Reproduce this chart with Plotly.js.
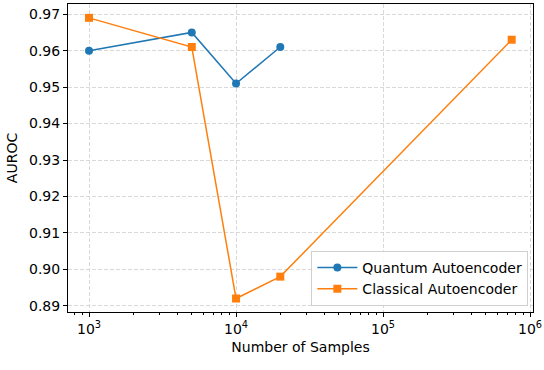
<!DOCTYPE html>
<html>
<head>
<meta charset="utf-8">
<script src="https://cdn.plot.ly/plotly-3.0.1.min.js"></script>
<style>
  html, body { margin: 0; padding: 0; background: #fff; }
  #chart { width: 544px; height: 370px; }
</style>
</head>
<body>
<div id="chart"></div>
<script>
    // Data
    const quantumSamples = [1000, 5000, 10000, 20000];
    const quantumAuroc = [0.960, 0.965, 0.951, 0.961];
    const classicalSamples = [1000, 5000, 10000, 20000, 750000];
    const classicalAuroc = [0.969, 0.961, 0.892, 0.898, 0.963];
    const xTickVals = [1e3, 1e4, 1e5, 1e6];
    const xTickText = ['10<sup>3</sup>', '10<sup>4</sup>', '10<sup>5</sup>', '10<sup>6</sup>'];
    const yTickVals = [0.89, 0.90, 0.91, 0.92, 0.93, 0.94, 0.95, 0.96, 0.97];

    const font = { family: 'DejaVu Sans, sans-serif', size: 14, color: '#000' };

    const traces = [{
        x: quantumSamples,
        y: quantumAuroc,
        type: 'scatter',
        mode: 'lines+markers',
        name: 'Quantum Autoencoder',
        line: { color: '#1f77b4', width: 1.5 },
        marker: { color: '#1f77b4', size: 8, symbol: 'circle' }
    }, {
        x: classicalSamples,
        y: classicalAuroc,
        type: 'scatter',
        mode: 'lines+markers',
        name: 'Classical Autoencoder',
        line: { color: '#ff7f0e', width: 1.5 },
        marker: { color: '#ff7f0e', size: 8, symbol: 'square' }
    }];

    const layout = {
        width: 544,
        height: 370,
        font: font,
        paper_bgcolor: '#fff',
        plot_bgcolor: '#fff',
        margin: { t: 4, b: 58, l: 68, r: 11 },
        xaxis: {
            type: 'log',
            range: [2.857, 6.02],
            tickvals: xTickVals,
            ticktext: xTickText,
            ticks: 'outside',
            ticklen: 4,
            tickcolor: '#000',
            showline: true,
            linecolor: '#000',
            linewidth: 1,
            mirror: true,
            showgrid: true,
            gridcolor: '#d0d0d0',
            griddash: '4px,2px',
            gridwidth: 0.8,
            zeroline: false,
            minor: { dtick: 'D1', ticks: 'outside', ticklen: 2, tickcolor: '#000', showgrid: false },
            title: { text: 'Number of Samples', font: font, standoff: 6 }
        },
        yaxis: {
            range: [0.8883, 0.9728],
            tickvals: yTickVals,
            tickformat: '.2f',
            ticks: 'outside',
            ticklen: 4,
            tickcolor: '#000',
            showline: true,
            linecolor: '#000',
            linewidth: 1,
            mirror: true,
            showgrid: true,
            gridcolor: '#d0d0d0',
            griddash: '4px,2px',
            gridwidth: 0.8,
            zeroline: false,
            title: { text: 'AUROC', font: font, standoff: 8 }
        },
        legend: {
            x: 0.99,
            y: 0.02,
            xanchor: 'right',
            yanchor: 'bottom',
            bgcolor: 'rgba(255,255,255,0.85)',
            bordercolor: '#d0d0d0',
            borderwidth: 1,
            itemwidth: 40,
            font: font
        },
        showlegend: true
    };

    Plotly.newPlot('chart', traces, layout, { displayModeBar: false, staticPlot: true });
</script>
</body>
</html>
